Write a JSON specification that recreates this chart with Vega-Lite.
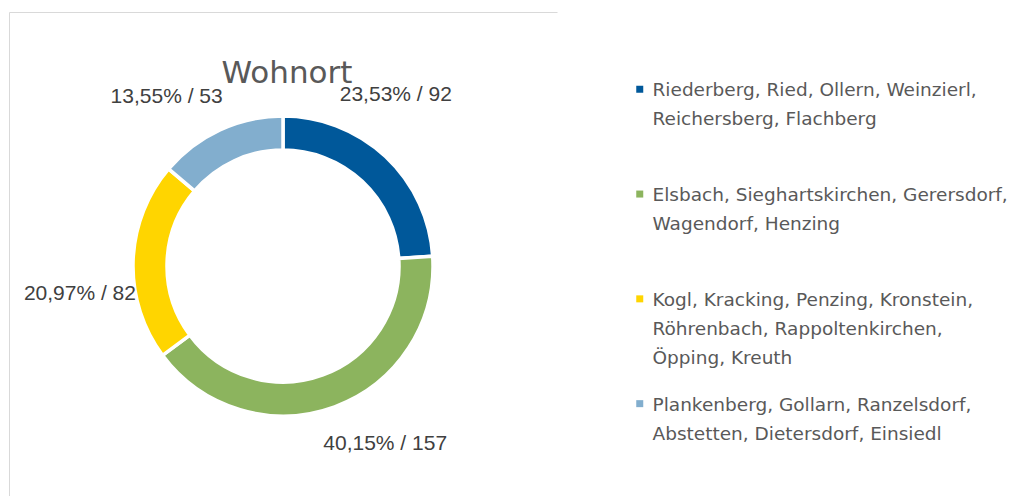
{
  "$schema": "https://vega.github.io/schema/vega-lite/v6.json",
  "autosize": "none",
  "padding": {"left": 9, "top": 12, "right": 454, "bottom": 0},
  "width": 548,
  "height": 508,
  "background": "white",
  "view": {"stroke": "#d9d9d9", "strokeWidth": 1, "strokeDash": [548, 508, 1056, 0]},
  "config": {"style": {"guide-label": {"lineHeight": 29, "dy": -8}}},
  "title": {"text": "Wohnort", "font": "DejaVu Sans", "fontSize": 31, "fontWeight": "normal", "color": "#595959", "anchor": "middle", "frame": "group", "baseline": "alphabetic", "offset": 0, "dy": 102, "dx": 4},
  "data": {"values": [
    {"ort": "Riederberg, Ried, Ollern, Weinzierl,\nReichersberg, Flachberg", "anzahl": 92, "anteil": 23.53, "i": 1},
    {"ort": "Elsbach, Sieghartskirchen, Gerersdorf,\nWagendorf, Henzing", "anzahl": 157, "anteil": 40.15, "i": 2},
    {"ort": "Kogl, Kracking, Penzing, Kronstein,\nRöhrenbach, Rappoltenkirchen,\nÖpping, Kreuth", "anzahl": 82, "anteil": 20.97, "i": 3},
    {"ort": "Plankenberg, Gollarn, Ranzelsdorf,\nAbstetten, Dietersdorf, Einsiedl", "anzahl": 53, "anteil": 13.55, "i": 4}
  ]},
  "transform": [
    {"calculate": "replace(format(datum.anteil, '.2f'), '.', ',') + '% / ' + datum.anzahl", "as": "beschriftung"}
  ],
  "encoding": {
    "theta": {"field": "anzahl", "type": "quantitative", "stack": true},
    "order": {"field": "i", "type": "quantitative"}
  },
  "layer": [
    {
      "mark": {"type": "arc", "outerRadius": 150, "innerRadius": 116, "stroke": "white", "strokeWidth": 3.5},
      "encoding": {
        "color": {
          "field": "ort", "type": "nominal", "sort": null,
          "scale": {"range": ["#00589A", "#8CB45E", "#FFD500", "#82AECE"]},
          "legend": {
            "title": null, "orient": "none", "legendX": 621.5, "legendY": 68,
            "symbolType": "square", "symbolSize": 49, "symbolStrokeWidth": 0,
            "labelFont": "DejaVu Sans", "labelFontSize": 18.5, "labelColor": "#595959",
            "labelLimit": 1000, "labelOffset": 3.5,
            "labelExpr": "split(datum.label, '\\n')",
            "labelBaseline": "top", "gridAlign": "all", "rowPadding": 26.8, "padding": 0
          }
        }
      }
    },
    {
      "mark": {"type": "text", "radius": 205, "thetaOffset": -0.17, "font": "Liberation Sans", "fontSize": 21, "color": "#404040"},
      "encoding": {
        "text": {"field": "beschriftung", "type": "nominal"},
        "detail": {"field": "ort", "type": "nominal"}
      }
    }
  ]
}
